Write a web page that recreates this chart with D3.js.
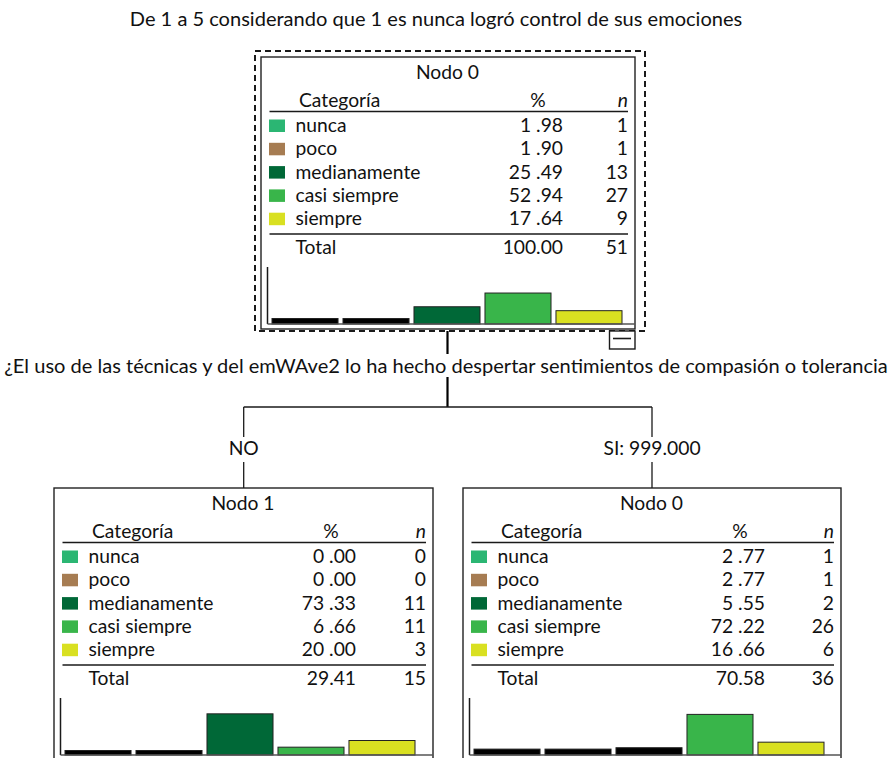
<!DOCTYPE html>
<html>
<head>
<meta charset="utf-8">
<script src="https://cdn.jsdelivr.net/npm/d3@7"></script>
<style>
  html, body { margin: 0; padding: 0; background: #fff; }
  svg { display: block; }
  text { font-family: Lato, "Open Sans", sans-serif; fill: #111; }
</style>
</head>
<body>
<svg id="chart" width="891" height="758"></svg>
<script>
// ---------- data ----------
const chartTitle = "De 1 a 5 considerando que 1 es nunca logró control de sus emociones";
const splitQuestion = "¿El uso de las técnicas y del emWAve2 lo ha hecho despertar sentimientos de compasión o tolerancia";
const categories = ["nunca", "poco", "medianamente", "casi siempre", "siempre"];
const categoryColors = ["#2bb673", "#a67c52", "#006837", "#39b54a", "#d9e021"];
const nodeTitles = ["Nodo 0", "Nodo 1", "Nodo 0"];
const branchLabels = ["NO", "SI: 999.000"];
const headerLabels = ["Categoría", "%", "n"];
const totalLabel = "Total";

const node0Pct = [1.98, 1.90, 25.49, 52.94, 17.64];
const node0N = [1, 1, 13, 27, 9];
const node0Total = [100.00, 51];

const node1Pct = [0.00, 0.00, 73.33, 6.66, 20.00];
const node1N = [0, 0, 11, 11, 3];
const node1Total = [29.41, 15];

const node2Pct = [2.77, 2.77, 5.55, 72.22, 16.66];
const node2N = [1, 1, 2, 26, 6];
const node2Total = [70.58, 36];

// ---------- layout ----------
const svg = d3.select("#chart");
const ink = "#1a1a1a";

function fitText(sel, target) {
  const w = sel.node().getComputedTextLength();
  const fs = parseFloat(sel.attr("font-size"));
  sel.attr("font-size", fs * target / w);
}

// calibrate table font size: "medianamente" ≈ 125px wide
const probe = svg.append("text").attr("font-size", 100).text("medianamente");
const tableFont = 100 * 125 / probe.node().getComputedTextLength();
probe.remove();

// Title
const t = svg.append("text").attr("x", 436).attr("y", 26).attr("text-anchor", "middle")
  .attr("font-size", 16).text(chartTitle);
fitText(t, 613);

const fmtRow = v => d3.format(".2f")(v).replace(".", " .");
const fmtTot = v => d3.format(".2f")(v);

const nodes = [
  { x: 261, y: 57, w: 374, h: 272, title: nodeTitles[0], pct: node0Pct, n: node0N, total: node0Total, root: true },
  { x: 54, y: 488, w: 379, h: 272, title: nodeTitles[1], pct: node1Pct, n: node1N, total: node1Total },
  { x: 463, y: 488, w: 378, h: 272, title: nodeTitles[2], pct: node2Pct, n: node2N, total: node2Total }
];

const rowOffsets = [75, 98.3, 121.6, 144.9, 168.2];

nodes.forEach(nd => {
  const g = svg.append("g").attr("transform", `translate(${nd.x},${nd.y})`);
  if (nd.root) {
    svg.append("rect").attr("x", 255).attr("y", 51).attr("width", 390).attr("height", 280)
      .attr("fill", "none").attr("stroke", ink).attr("stroke-width", 2).attr("stroke-dasharray", "6,4");
  }
  g.append("rect").attr("x", 0).attr("y", 0).attr("width", nd.w).attr("height", nd.h)
    .attr("fill", "#fff").attr("stroke", "#222").attr("stroke-width", 1.4);

  g.append("text").attr("x", nd.w / 2 - 0.5).attr("y", 21.5).attr("text-anchor", "middle")
    .attr("font-size", tableFont).text(nd.title);

  // header
  g.append("text").attr("x", 38).attr("y", 50).attr("font-size", tableFont).text(headerLabels[0]);
  g.append("text").attr("x", 277).attr("y", 50).attr("text-anchor", "middle").attr("font-size", tableFont).text(headerLabels[1]);
  g.append("text").attr("x", nd.w - 7).attr("y", 50).attr("text-anchor", "end").attr("font-size", tableFont)
    .attr("font-style", "italic").text(headerLabels[2]);
  g.append("line").attr("x1", 8.5).attr("x2", nd.w - 7).attr("y1", 54.5).attr("y2", 54.5)
    .attr("stroke", ink).attr("stroke-width", 1.5);

  categories.forEach((c, i) => {
    const by = rowOffsets[i];
    g.append("rect").attr("x", 8).attr("y", by - 12.5).attr("width", 16).attr("height", 12.5)
      .attr("fill", categoryColors[i]);
    g.append("text").attr("x", 34.5).attr("y", by).attr("font-size", tableFont).text(c);
    g.append("text").attr("x", 302).attr("y", by).attr("text-anchor", "end").attr("font-size", tableFont).text(fmtRow(nd.pct[i]));
    g.append("text").attr("x", nd.w - 7).attr("y", by).attr("text-anchor", "end").attr("font-size", tableFont).text(nd.n[i]);
  });

  g.append("line").attr("x1", 8.5).attr("x2", nd.w - 7).attr("y1", 177).attr("y2", 177)
    .attr("stroke", ink).attr("stroke-width", 1.5);
  g.append("text").attr("x", 34.5).attr("y", 197).attr("font-size", tableFont).text(totalLabel);
  g.append("text").attr("x", 302).attr("y", 197).attr("text-anchor", "end").attr("font-size", tableFont).text(fmtTot(nd.total[0]));
  g.append("text").attr("x", nd.w - 7).attr("y", 197).attr("text-anchor", "end").attr("font-size", tableFont).text(nd.total[1]);

  // mini bar chart
  const axisX = 6.5, base = 267, top = 210;
  const xb = d3.scaleBand().domain(categories).range([11, 11 + 350]).paddingInner(0.07).paddingOuter(0);
  const yb = d3.scaleLinear().domain([0, 100]).range([base - 4.5, base - 54.5]);
  g.selectAll("rect.bar").data(categories).join("rect").attr("class", "bar")
    .attr("x", d => xb(d)).attr("width", xb.bandwidth())
    .attr("y", (d, i) => yb(nd.pct[i])).attr("height", (d, i) => base - yb(nd.pct[i]))
    .attr("fill", (d, i) => nd.pct[i] < 6 ? "#000" : categoryColors[i])
    .attr("stroke", "#222").attr("stroke-width", 1);
  g.append("line").attr("x1", axisX).attr("x2", axisX).attr("y1", top).attr("y2", base)
    .attr("stroke", ink).attr("stroke-width", 1.5);
  g.append("line").attr("x1", axisX).attr("x2", nd.w).attr("y1", base).attr("y2", base)
    .attr("stroke", "#555").attr("stroke-width", 1.5);
});

// collapse toggle box on root
svg.append("rect").attr("x", 609.5).attr("y", 331).attr("width", 25.5).attr("height", 18)
  .attr("fill", "#fff").attr("stroke", ink).attr("stroke-width", 1.4);
svg.append("line").attr("x1", 613).attr("x2", 631).attr("y1", 338.5).attr("y2", 338.5)
  .attr("stroke", ink).attr("stroke-width", 1.6);

// tree connectors
const rootX = 447.5, hY = 407;
const childX = [243.7, 652];
svg.append("line").attr("x1", rootX).attr("x2", rootX).attr("y1", 331).attr("y2", 354)
  .attr("stroke", "#000").attr("stroke-width", 2.2);
svg.append("line").attr("x1", rootX).attr("x2", rootX).attr("y1", 377).attr("y2", hY)
  .attr("stroke", "#000").attr("stroke-width", 2.2);
svg.append("line").attr("x1", childX[0]).attr("x2", childX[1]).attr("y1", hY).attr("y2", hY)
  .attr("stroke", ink).attr("stroke-width", 1.3);
childX.forEach((cx, i) => {
  svg.append("line").attr("x1", cx).attr("x2", cx).attr("y1", hY).attr("y2", 437)
    .attr("stroke", ink).attr("stroke-width", 1.3);
  svg.append("line").attr("x1", cx).attr("x2", cx).attr("y1", 462).attr("y2", 488)
    .attr("stroke", ink).attr("stroke-width", 1.3);
  svg.append("text").attr("x", cx).attr("y", 455).attr("text-anchor", "middle")
    .attr("font-size", tableFont).text(branchLabels[i]);
});

const q = svg.append("text").attr("x", 446).attr("y", 373).attr("text-anchor", "middle")
  .attr("font-size", 17).text(splitQuestion);
fitText(q, 884);
</script>
</body>
</html>
